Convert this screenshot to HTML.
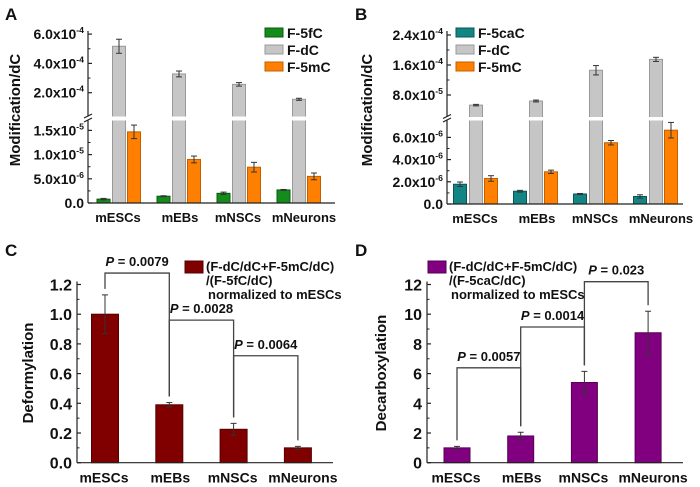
<!DOCTYPE html>
<html><head><meta charset="utf-8"><style>
html,body{margin:0;padding:0;background:#fff;}
svg{display:block;font-family:"Liberation Sans",Arial,sans-serif;font-weight:bold;}
</style></head><body>
<svg id="fig" width="700" height="487" viewBox="0 0 700 487" xmlns="http://www.w3.org/2000/svg"></svg>
<script>
const cats=['mESCs','mEBs','mNSCs','mNeurons'];
// Panel A
const a5fC=[0.8e-6,1.4e-6,2.0e-6,2.7e-6];
const a5fCErr=[0.15e-6,0.1e-6,0.25e-6,0.1e-6];
const aDC=[5.17e-4,3.28e-4,2.57e-4,1.55e-4];
const aDCErr=[0.48e-4,0.2e-4,0.12e-4,0.07e-4];
const a5mC=[1.47e-5,0.90e-5,0.74e-5,0.55e-5];
const a5mCErr=[0.14e-5,0.07e-5,0.1e-5,0.07e-5];
const aLowTicks=[0,5e-6,1e-5,1.5e-5];
const aLowLabels=['0.0','5.0x10','1.0x10','1.5x10'];
const aLowExps=['','-6','-5','-5'];
const aHiTicks=[2e-4,4e-4,6e-4];
const aHiLabels=['2.0x10','4.0x10','6.0x10'];
const aHiExps=['-4','-4','-4'];
// Panel B
const b5caC=[1.78e-6,1.15e-6,0.9e-6,0.68e-6];
const b5caCErr=[0.2e-6,0.08e-6,0.05e-6,0.15e-6];
const bDC=[5.3e-5,6.4e-5,1.46e-4,1.75e-4];
const bDCErr=[0.2e-5,0.25e-5,1.25e-5,0.55e-5];
const b5mC=[2.3e-6,2.9e-6,5.52e-6,6.65e-6];
const b5mCErr=[0.25e-6,0.15e-6,0.2e-6,0.7e-6];
const bLowTicks=[0,2e-6,4e-6,6e-6];
const bLowLabels=['0.0','2.0x10','4.0x10','6.0x10'];
const bLowExps=['','-6','-6','-6'];
const bHiTicks=[8e-5,1.6e-4,2.4e-4];
const bHiLabels=['8.0x10','1.6x10','2.4x10'];
const bHiExps=['-5','-4','-4'];
// Panel C
const cVals=[1.0,0.39,0.225,0.10];
const cErr=[0.13,0.015,0.04,0.01];
const cTicks=[0,0.2,0.4,0.6,0.8,1.0,1.2];
const cTickLabels=['0.0','0.2','0.4','0.6','0.8','1.0','1.2'];
const cPairs=[[0,1],[1,2],[2,3]];
const cPLevels=[1.277,0.96,0.72];
const cPLabels=['0.0079','0.0028','0.0064'];
// Panel D
const dVals=[1.0,1.8,5.4,8.75];
const dErr=[0.1,0.25,0.75,1.45];
const dTicks=[0,2,4,6,8,10,12];
const dTickLabels=['0','2','4','6','8','10','12'];
const dPairs=[[0,1],[1,2],[2,3]];
const dPLevels=[6.39,9.14,12.19];
const dPLabels=['0.0057','0.0014','0.023'];

const NS='http://www.w3.org/2000/svg';
const svg=document.getElementById('fig');
const labelShift=[-1,1,-1,5];
function el(tag,attrs,parent){const e=document.createElementNS(NS,tag);for(const k in attrs)e.setAttribute(k,attrs[k]);(parent||svg).appendChild(e);return e;}
function grp(name){const g=el('g',{});return g;}
function txt(g,x,y,s,size,anchor,exp){const t=el('text',{x:x,y:y,'font-size':size,'text-anchor':anchor||'start',fill:'#111'},g);t.textContent=s;if(exp){const sp=el('tspan',{dy:-6,'font-size':size*0.62},t);sp.textContent=exp;}return t;}
function line(g,x1,y1,x2,y2,c,w){return el('line',{x1:x1,y1:y1,x2:x2,y2:y2,stroke:c||'#222','stroke-width':w||1.2},g);}

function brokenScale(c){const lowMax=(c.y0-c.lowTop)/c.lowK;return v=>v<=lowMax?c.y0-v*c.lowK:Math.min(c.gapTop,c.refY-(v-c.refV)*c.hiK);}
function errbar(g,x,yl,yh){line(g,x,yl,x,yh,'#333',1);line(g,x-3,yl,x+3,yl,'#333',1);line(g,x-3,yh,x+3,yh,'#333',1);}

function brokenPanel(P){
  const s=brokenScale(P.sc);const g=grp(P.name);
  const series=P.series;
  series.forEach((se,si)=>{
    const sg=grp(P.name+'-series-'+se.key);g.appendChild(sg);
    se.vals.forEach((v,i)=>{
      const cx=P.cx0+i*P.step+P.offs[si];const y=s(v);
      const r=el('rect',{x:cx-P.bw/2,y:y,width:P.bw,height:P.sc.y0-y,fill:se.color,stroke:se.stroke,'stroke-width':1},sg);
      
      
      errbar(sg,cx,s(v-se.err[i]),s(v+se.err[i]));
    });
  });
  const gap=el('rect',{x:P.ax+1,y:P.sc.gapTop,width:P.right-P.ax,height:P.sc.lowTop-P.sc.gapTop,fill:'#fff'},g);
  
  
  const ag=grp(P.name+'-y-axis');g.appendChild(ag);
  line(ag,P.ax,P.sc.y0,P.ax,P.sc.lowTop);line(ag,P.ax,P.sc.gapTop,P.ax,P.top);
  line(ag,P.ax-4,P.sc.lowTop+1.5,P.ax+4,P.sc.lowTop-2.5);line(ag,P.ax-4,P.sc.gapTop+1.5,P.ax+4,P.sc.gapTop-2.5);
  line(ag,P.ax,P.sc.y0,P.right,P.sc.y0);
  P.lowTicks.forEach((v,i)=>{const y=s(v);line(ag,P.ax,y,P.ax+4,y);txt(ag,P.ax-4,y+5,P.lowLabels[i],14,'end',P.lowExps[i]);
    if(i<P.lowTicks.length-1){const m=(v+P.lowTicks[i+1])/2;line(ag,P.ax,s(m),P.ax+2.5,s(m),'#222',1);}});
  P.hiTicks.forEach((v,i)=>{const y=s(v);line(ag,P.ax,y,P.ax+4,y);txt(ag,P.ax-4,y+5,P.hiLabels[i],14,'end',P.hiExps[i]);
    if(i<P.hiTicks.length-1){const m=(v+P.hiTicks[i+1])/2;line(ag,P.ax,s(m),P.ax+2.5,s(m),'#222',1);}});
  cats.forEach((c,i)=>{const t=txt(g,P.cx0+i*P.step+labelShift[i],P.sc.y0+19,c,13,'middle');});
  const yt=txt(g,0,0,'Modification/dC',15,'middle');yt.setAttribute('transform','translate('+P.ylx+',110) rotate(-90)');
  
  const pl=txt(g,P.letterX,20,P.letter,17,'start');
  const lg=grp(P.name+'-legend');g.appendChild(lg);
  series.forEach((se,si)=>{const y=28+si*17;
    const sw=el('rect',{x:P.legX,y:y,width:18,height:9,fill:se.color,stroke:se.stroke,'stroke-width':1},lg);
    
    const t=txt(lg,P.legX+22,y+10,se.label,14,'start');});
}

brokenPanel({name:'panel-a',letter:'A',letterX:5,ax:88,right:335,top:31,cx0:119,step:60,offs:[-15.5,0,15],bw:13,ylx:20,legX:265,
  sc:{y0:203,lowK:24.2/5e-6,lowTop:120.5,gapTop:116.5,refY:92.7,refV:2e-4,hiK:29.3/2e-4},
  lowTicks:aLowTicks,lowLabels:aLowLabels,lowExps:aLowExps,hiTicks:aHiTicks,hiLabels:aHiLabels,hiExps:aHiExps,
  series:[{key:'f5fc',label:'F-5fC',vals:a5fC,err:a5fCErr,color:'#138c1b',stroke:'#0a5a0e'},
          {key:'fdc',label:'F-dC',vals:aDC,err:aDCErr,color:'#c6c6c6',stroke:'#999'},
          {key:'f5mc',label:'F-5mC',vals:a5mC,err:a5mCErr,color:'#ff8000',stroke:'#c06000'}]});
brokenPanel({name:'panel-b',letter:'B',letterX:355,ax:447,right:683,top:31,cx0:476,step:60,offs:[-16,0,15],bw:13,ylx:372,legX:456,
  sc:{y0:204,lowK:22.2/2e-6,lowTop:120.5,gapTop:117,refY:95,refV:8e-5,hiK:30/8e-5},
  lowTicks:bLowTicks,lowLabels:bLowLabels,lowExps:bLowExps,hiTicks:bHiTicks,hiLabels:bHiLabels,hiExps:bHiExps,
  series:[{key:'f5cac',label:'F-5caC',vals:b5caC,err:b5caCErr,color:'#138585',stroke:'#0a5555'},
          {key:'fdc',label:'F-dC',vals:bDC,err:bDCErr,color:'#c6c6c6',stroke:'#999'},
          {key:'f5mc',label:'F-5mC',vals:b5mC,err:b5mCErr,color:'#ff8000',stroke:'#c06000'}]});

function linPanel(P){
  const k=29.7/P.tickStep;const s=v=>P.y0-v*k;const g=grp(P.name);
  const bg=grp(P.name+'-bars');g.appendChild(bg);
  P.vals.forEach((v,i)=>{const cx=P.cx0+i*P.step;
    const r=el('rect',{x:cx-P.bw/2,y:s(v),width:P.bw,height:P.y0-s(v),fill:P.color,stroke:P.stroke,'stroke-width':1},bg);
    
    
    errbar(bg,cx,s(v-P.err[i]),s(v+P.err[i]));});
  const ag=grp(P.name+'-y-axis');g.appendChild(ag);
  const top=s(P.ticks[P.ticks.length-1])-3;
  line(ag,P.ax,P.y0,P.ax,top);line(ag,P.ax,P.y0,P.right,P.y0);
  P.ticks.forEach((v,i)=>{const y=s(v);line(ag,P.ax,y,P.ax+4,y);txt(ag,P.ax-5,y+6,P.tickLabels[i],16,'end');
    if(i<P.ticks.length-1){const m=s(v+P.tickStep/2);line(ag,P.ax,m,P.ax+2.5,m,'#222',1);}});
  cats.forEach((c,i)=>{const t=txt(g,P.cx0+i*P.step+labelShift[i],P.y0+20,c,14,'middle');});
  const yt=txt(g,0,0,P.ytitle,15,'middle');yt.setAttribute('transform','translate('+P.ylx+',373) rotate(-90)');
  
  const pl=txt(g,P.letterX,256,P.letter,17,'start');
  P.pairs.forEach((pr,j)=>{const bk=grp(P.name+'-p-bracket');g.appendChild(bk);
    const x1=P.cx0+pr[0]*P.step,x2=P.cx0+pr[1]*P.step,yh=s(P.levels[j]);
    const e1=s(P.vals[pr[0]]+P.err[pr[0]])-6,e2=s(P.vals[pr[1]]+P.err[pr[1]])-6;
    el('polyline',{points:x1+','+e1+' '+x1+','+yh+' '+x2+','+yh+' '+x2+','+e2,fill:'none',stroke:'#444','stroke-width':1.3},bk);
    const t=el('text',{x:(x1+x2)/2,y:yh-7,'font-size':13,'text-anchor':'middle',fill:'#111'},bk);
    const ip=el('tspan',{'font-style':'italic'},t);ip.textContent='P';
    const rest=el('tspan',{},t);rest.textContent=' = '+P.plabels[j];});
  const lg=grp(P.name+'-legend');g.appendChild(lg);
  const sw=el('rect',{x:P.legX,y:261,width:18,height:12,fill:P.color,stroke:P.stroke,'stroke-width':1},lg);
  
  P.legLines.forEach((l,i)=>{const t=txt(lg,P.legX+21+(i==2?2:0),271+i*14,l,13,'start');});
}
linPanel({name:'panel-c',letter:'C',letterX:5,ax:77,right:333,y0:462.7,tickStep:0.2,cx0:105,step:64.3,bw:27,ylx:33,legX:185,
  vals:cVals,err:cErr,ticks:cTicks,tickLabels:cTickLabels,pairs:cPairs,levels:cPLevels,plabels:cPLabels,
  color:'#800000',stroke:'#550000',ytitle:'Deformylation',legLines:['(F-dC/dC+F-5mC/dC)','/(F-5fC/dC)','normalized to mESCs']});
linPanel({name:'panel-d',letter:'D',letterX:355,ax:427,right:683,y0:462.7,tickStep:2,cx0:457,step:63.7,bw:26,ylx:386,legX:428,
  vals:dVals,err:dErr,ticks:dTicks,tickLabels:dTickLabels,pairs:dPairs,levels:dPLevels,plabels:dPLabels,
  color:'#800080',stroke:'#550055',ytitle:'Decarboxylation',legLines:['(F-dC/dC+F-5mC/dC)','/(F-5caC/dC)','normalized to mESCs']});
</script>
</body></html>
